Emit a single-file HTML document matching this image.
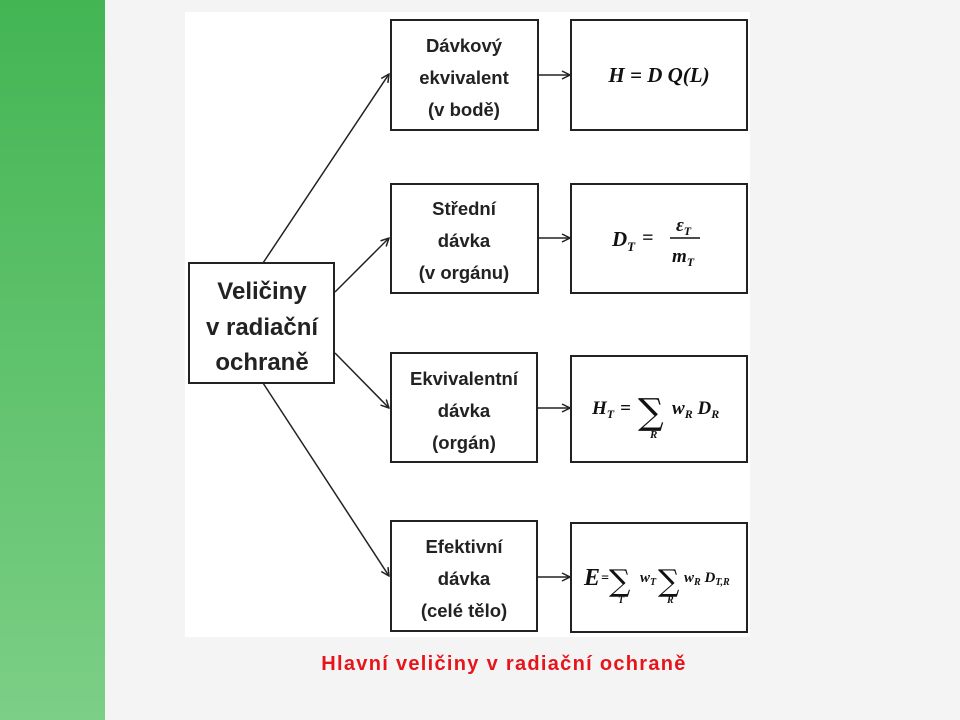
<!DOCTYPE html>
<html><head><meta charset="utf-8"><style>
html,body{margin:0;padding:0;width:960px;height:720px;overflow:hidden;background:#f4f4f4}
.g{position:absolute;left:0;top:0;width:105px;height:720px;background:linear-gradient(#43b553,#7ccf86)}
svg{position:absolute;left:0;top:0}
.t{font-family:"Liberation Sans",sans-serif;font-weight:bold;fill:#222;text-anchor:middle}
.m{font-family:"Liberation Serif",serif;font-weight:bold;font-style:italic;fill:#111}
.s{font-family:"DejaVu Serif",serif;fill:#111}
</style></head><body>
<div class="g"></div>
<svg width="960" height="720" viewBox="0 0 960 720">
<defs><marker id="a" markerWidth="10" markerHeight="10" refX="9" refY="5" orient="auto" markerUnits="userSpaceOnUse"><path d="M1,1 L9,5 L1,9" fill="none" stroke="#222" stroke-width="1.5"/></marker></defs>
<rect x="185" y="12" width="565" height="625" fill="#fff"/>
<g fill="none" stroke="#222" stroke-width="2">
<rect x="189" y="263" width="145" height="120"/>
<rect x="391" y="20" width="147" height="110"/>
<rect x="391" y="184" width="147" height="109"/>
<rect x="391" y="353" width="146" height="109"/>
<rect x="391" y="521" width="146" height="110"/>
<rect x="571" y="20" width="176" height="110"/>
<rect x="571" y="184" width="176" height="109"/>
<rect x="571" y="356" width="176" height="106"/>
<rect x="571" y="523" width="176" height="109"/>
</g>
<g stroke="#222" stroke-width="1.5" marker-end="url(#a)">
<line x1="263" y1="263" x2="389" y2="74"/>
<line x1="335" y1="292" x2="389" y2="238"/>
<line x1="335" y1="353" x2="389" y2="408"/>
<line x1="263" y1="383" x2="389" y2="576"/>
<line x1="538" y1="75" x2="570" y2="75"/>
<line x1="538" y1="238" x2="570" y2="238"/>
<line x1="537" y1="408" x2="570" y2="408"/>
<line x1="537" y1="577" x2="570" y2="577"/>
</g>
<g class="t" font-size="24">
<text x="262" y="299">Veličiny</text>
<text x="262" y="335">v radiační</text>
<text x="262" y="370">ochraně</text>
</g>
<g class="t" font-size="18.5">
<text x="464" y="52">Dávkový</text><text x="464" y="84">ekvivalent</text><text x="464" y="116">(v bodě)</text>
<text x="464" y="215">Střední</text><text x="464" y="247">dávka</text><text x="464" y="279">(v orgánu)</text>
<text x="464" y="385">Ekvivalentní</text><text x="464" y="417">dávka</text><text x="464" y="449">(orgán)</text>
<text x="464" y="553">Efektivní</text><text x="464" y="585">dávka</text><text x="464" y="617">(celé tělo)</text>
</g>
<text class="m" x="659" y="82" font-size="21" text-anchor="middle">H = D Q(L)</text>
<text class="m" x="612" y="246" font-size="21">D<tspan font-size="13" dy="5">T</tspan></text>
<text class="m" x="642" y="244" font-size="20" font-style="normal">=</text>
<text class="m" x="676" y="231" font-size="19">ε<tspan font-size="12" dy="4">T</tspan></text>
<line x1="670" y1="238" x2="700" y2="238" stroke="#111" stroke-width="1.5"/>
<text class="m" x="672" y="262" font-size="19">m<tspan font-size="12" dy="4">T</tspan></text>
<text class="m" x="592" y="414" font-size="19">H<tspan font-size="12" dy="4">T</tspan></text>
<text class="m" x="620" y="414" font-size="19" font-style="normal">=</text>
<text class="s" x="638" y="424" font-size="36">∑</text>
<text class="m" x="650" y="438" font-size="11">R</text>
<text class="m" x="672" y="414" font-size="19">w<tspan font-size="12" dy="4">R</tspan><tspan dy="-4"> D</tspan><tspan font-size="12" dy="4">R</tspan></text>
<text class="m" x="584" y="585" font-size="24">E</text>
<text class="m" x="601" y="582" font-size="14" font-style="normal">=</text>
<text class="s" x="609" y="591" font-size="30">∑</text>
<text class="m" x="618" y="603" font-size="10">T</text>
<text class="m" x="640" y="582" font-size="15">w<tspan font-size="10" dy="3">T</tspan></text>
<text class="s" x="658" y="591" font-size="30">∑</text>
<text class="m" x="667" y="603" font-size="10">R</text>
<text class="m" x="684" y="582" font-size="15">w<tspan font-size="10" dy="3">R</tspan><tspan dy="-3"> D</tspan><tspan font-size="10" dy="3">T,R</tspan></text>
<text x="504" y="670" font-family="Liberation Sans,sans-serif" font-weight="bold" font-size="20" letter-spacing="1.3" fill="#e8141b" text-anchor="middle">Hlavní veličiny v radiační ochraně</text>
</svg>
</body></html>
